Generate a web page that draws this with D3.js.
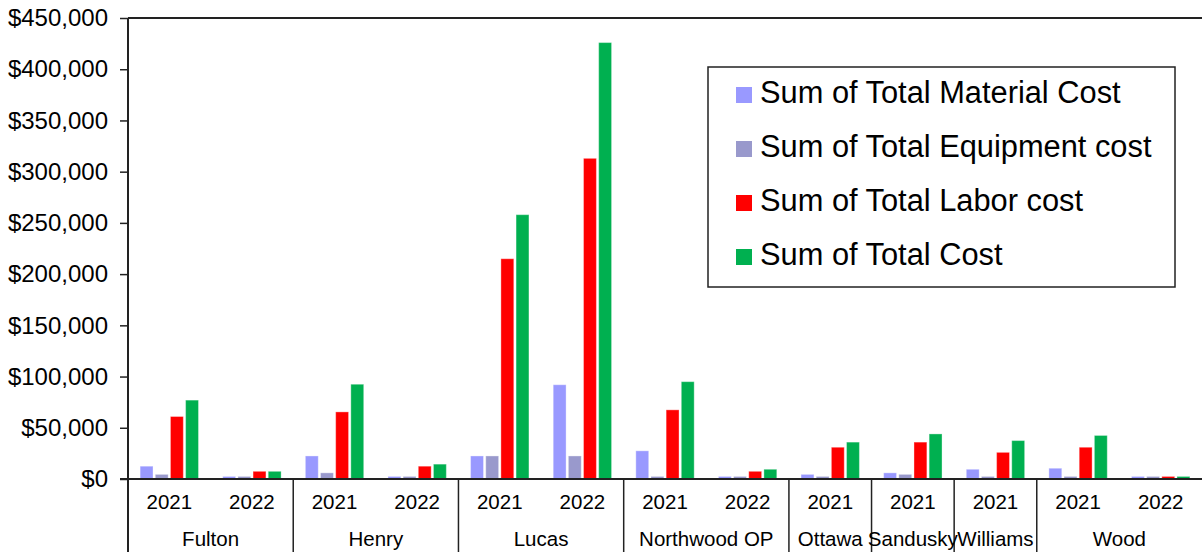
<!DOCTYPE html>
<html>
<head>
<meta charset="utf-8">
<script src="https://cdn.jsdelivr.net/npm/d3@7/dist/d3.min.js"></script>
<style>
  html, body { margin: 0; padding: 0; background: #fff; }
  svg { display: block; font-family: "Liberation Sans", Arial, sans-serif; }
</style>
</head>
<body>
<svg id="chart" width="1202" height="552"></svg>
<script>
// County / year leaves of the two-level category axis
const leafCounty = ["Fulton", "Fulton", "Henry", "Henry", "Lucas", "Lucas",
  "Northwood OP", "Northwood OP", "Ottawa", "Sandusky", "Williams", "Wood", "Wood"];
const leafYear = ["2021", "2022", "2021", "2022", "2021", "2022",
  "2021", "2022", "2021", "2021", "2021", "2021", "2022"];

// Series values (USD), one per leaf
const seriesNames = ["Sum of Total Material Cost", "Sum of Total Equipment cost",
  "Sum of Total Labor cost", "Sum of Total Cost"];
const materialCost = [12500, 2500, 22500, 2500, 22500, 92000, 27500, 2500, 4500, 6000, 9500, 10500, 2500];
const equipmentCost = [4500, 2500, 6000, 2500, 22500, 22500, 2500, 2500, 2500, 4500, 2500, 2500, 2500];
const laborCost = [61000, 7500, 65500, 12500, 215000, 313000, 67500, 7500, 31000, 36000, 26000, 31000, 2500];
const totalCost = [77000, 7500, 92500, 14500, 258000, 426000, 95000, 9500, 36000, 44000, 37500, 42500, 2500];
const seriesColors = ["#9999FF", "#9999CC", "#FF0000", "#00B050"];

// Value axis ticks
const yTicks = [0, 50000, 100000, 150000, 200000, 250000, 300000, 350000, 400000, 450000];

const seriesValues = [materialCost, equipmentCost, laborCost, totalCost];
const leaves = leafCounty.map((c, i) => ({ key: i, county: c, year: leafYear[i] }));

const svg = d3.select("#chart");
const plotLeft = 128, plotRight = 1202, plotTop = 18, base = 479, plotBottom = 552;

const x0 = d3.scaleBand().domain(leaves.map(d => d.key)).range([plotLeft, plotRight]).paddingInner(0).paddingOuter(0);
const x1 = d3.scaleBand().domain(d3.range(seriesNames.length)).range([0, x0.bandwidth()])
  .paddingInner(0.15).paddingOuter(0.8);
const y = d3.scaleLinear().domain([0, 450000]).range([base, plotTop]);

// Bars
const g = svg.append("g");
leaves.forEach((leaf, i) => {
  g.selectAll(null)
    .data(seriesValues.map((vals, s) => ({ s, v: vals[i] })))
    .join("rect")
    .attr("x", d => x0(leaf.key) + x1(d.s))
    .attr("width", x1.bandwidth())
    .attr("y", d => y(d.v))
    .attr("height", d => base - y(d.v))
    .attr("fill", d => seriesColors[d.s])
    .attr("stroke", "#ffffff")
    .attr("stroke-opacity", 0.35)
    .attr("stroke-width", 1);
});

// Value axis
const yAxis = d3.axisLeft(y).tickValues(yTicks).tickFormat(d3.format("$,")).tickSize(8).tickPadding(12);
const ya = svg.append("g").attr("transform", `translate(${plotLeft},0)`).call(yAxis);
ya.select(".domain").remove();
ya.selectAll(".tick line").attr("stroke", "#222").attr("stroke-width", 1.5);
ya.selectAll(".tick text").attr("font-size", "24px").attr("fill", "#000")
  .attr("font-family", "'Liberation Sans', Arial, sans-serif");

// Axis lines and plot top border
svg.append("line").attr("x1", plotLeft).attr("x2", plotLeft).attr("y1", plotTop).attr("y2", plotBottom)
  .attr("stroke", "#222").attr("stroke-width", 2);
svg.append("line").attr("x1", plotLeft).attr("x2", plotRight).attr("y1", plotTop).attr("y2", plotTop)
  .attr("stroke", "#222").attr("stroke-width", 2);
svg.append("line").attr("x1", plotLeft - 8).attr("x2", plotRight).attr("y1", base).attr("y2", base)
  .attr("stroke", "#222").attr("stroke-width", 2);

// Category axis: year labels
svg.append("g").selectAll("text").data(leaves).join("text")
  .attr("x", d => x0(d.key) + x0.bandwidth() / 2)
  .attr("y", 509)
  .attr("text-anchor", "middle")
  .attr("font-size", "20.5px")
  .text(d => d.year);

// Category axis: county groups and separators
const groups = d3.groups(leaves, d => d.county).map(([county, ls]) => ({
  county,
  x0: x0(ls[0].key),
  x1: x0(ls[ls.length - 1].key) + x0.bandwidth()
}));
svg.append("g").selectAll("line").data(groups.slice(1)).join("line")
  .attr("x1", d => d.x0).attr("x2", d => d.x0)
  .attr("y1", base).attr("y2", plotBottom)
  .attr("stroke", "#222").attr("stroke-width", 1.5);
svg.append("g").selectAll("text").data(groups).join("text")
  .attr("x", d => (d.x0 + d.x1) / 2)
  .attr("y", 546)
  .attr("text-anchor", "middle")
  .attr("font-size", "20.5px")
  .text(d => d.county);

// Legend
const legend = svg.append("g");
legend.append("rect").attr("x", 708).attr("y", 67).attr("width", 467).attr("height", 220)
  .attr("fill", "#fff").attr("stroke", "#222").attr("stroke-width", 1.5);
const items = legend.selectAll("g.item").data(seriesNames).join("g")
  .attr("transform", (d, i) => `translate(0,${95 + i * 54})`);
items.append("rect").attr("x", 736).attr("y", -8).attr("width", 16).attr("height", 16)
  .attr("fill", (d, i) => seriesColors[i]);
items.append("text").attr("x", 760).attr("y", 8).attr("font-size", "30.8px").text(d => d);
</script>
</body>
</html>
